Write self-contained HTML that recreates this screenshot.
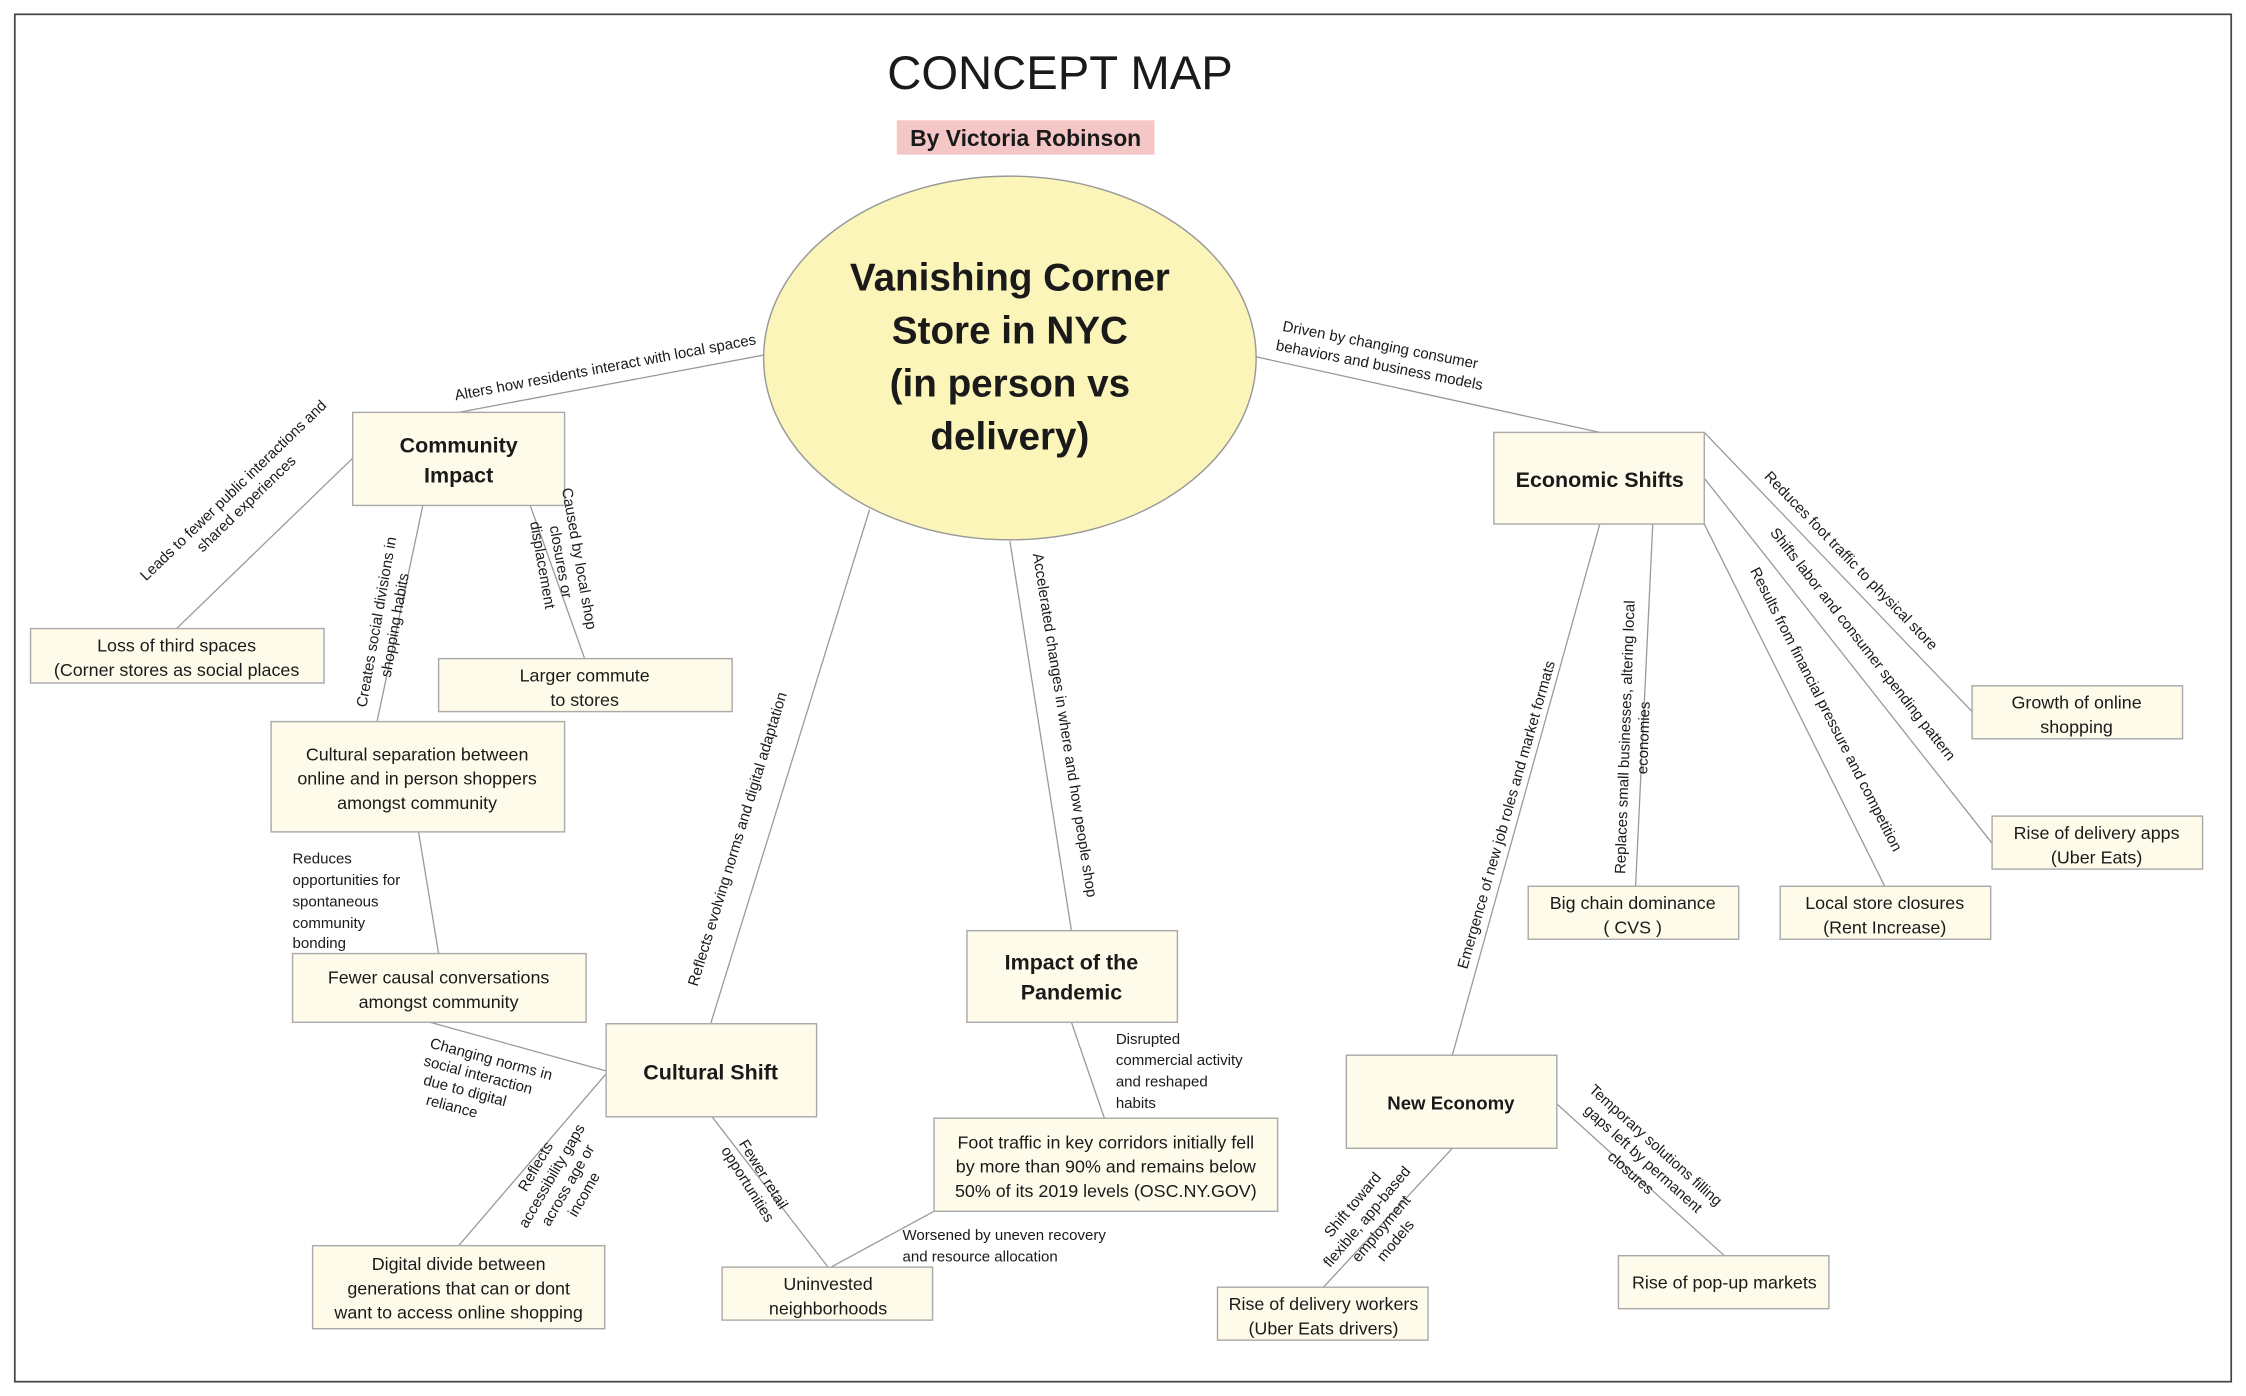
<!DOCTYPE html>
<html><head><meta charset="utf-8"><style>
html,body{margin:0;padding:0;background:#fff;}
svg{display:block;}
text{font-family:"Liberation Sans",sans-serif;fill:#1a1a1a;}
.n{font-size:12.5px;}
.b{font-weight:bold;}
.l{font-size:10.5px;}
rect.box{fill:#fefbea;stroke:#aaa;stroke-width:1;}
line{stroke:#999;stroke-width:0.9;}
</style></head><body>
<svg width="2246" height="1396" viewBox="0 0 1568 975" xmlns="http://www.w3.org/2000/svg">
<rect x="10" y="10" width="1548" height="955" fill="#fff" stroke="#444" stroke-width="1.2"/>
<text x="740" y="62" text-anchor="middle" style="font-size:33px">CONCEPT MAP</text>
<rect x="626" y="84" width="180" height="24" fill="#f5c6c6"/>
<text x="716" y="102" text-anchor="middle" class="b" style="font-size:16px">By Victoria Robinson</text>

<!-- connectors -->
<line x1="533" y1="248" x2="320" y2="288"/>
<line x1="246" y1="320" x2="123" y2="439"/>
<line x1="295" y1="353" x2="263" y2="504"/>
<line x1="370" y1="353" x2="408" y2="460"/>
<line x1="292" y1="581" x2="306" y2="666"/>
<line x1="300" y1="714" x2="423" y2="748"/>
<line x1="423" y1="750" x2="320" y2="870"/>
<line x1="497" y1="780" x2="578" y2="885"/>
<line x1="607" y1="356" x2="496" y2="715"/>
<line x1="705" y1="378" x2="748" y2="650"/>
<line x1="748" y1="714" x2="771" y2="781"/>
<line x1="652" y1="846" x2="580" y2="885"/>
<line x1="876" y1="249" x2="1117" y2="302"/>
<line x1="1190" y1="302" x2="1377" y2="497"/>
<line x1="1190" y1="334" x2="1391" y2="589"/>
<line x1="1190" y1="366" x2="1316" y2="619"/>
<line x1="1154" y1="366" x2="1142" y2="619"/>
<line x1="1117" y1="366" x2="1014" y2="737"/>
<line x1="1014" y1="802" x2="924" y2="899"/>
<line x1="1087" y1="771" x2="1204" y2="877"/>

<!-- central ellipse -->
<ellipse cx="705" cy="250" rx="172" ry="127" fill="#fcf5b9" stroke="#999"/>
<g class="b" style="font-size:27px" text-anchor="middle">
<text x="705" y="203">Vanishing Corner</text>
<text x="705" y="240">Store in NYC</text>
<text x="705" y="277">(in person vs</text>
<text x="705" y="314">delivery)</text>
</g>

<!-- boxes -->
<rect class="box" x="246" y="288" width="148" height="65"/>
<text x="320" y="316" text-anchor="middle" class="b" style="font-size:15px">Community</text>
<text x="320" y="337" text-anchor="middle" class="b" style="font-size:15px">Impact</text>

<rect class="box" x="21" y="439" width="205" height="38"/>
<text x="123" y="455" text-anchor="middle" class="n">Loss of third spaces</text>
<text x="123" y="472" text-anchor="middle" class="n">(Corner stores as social places</text>

<rect class="box" x="306" y="460" width="205" height="37"/>
<text x="408" y="476" text-anchor="middle" class="n">Larger commute</text>
<text x="408" y="493" text-anchor="middle" class="n">to stores</text>

<rect class="box" x="189" y="504" width="205" height="77"/>
<text x="291" y="531" text-anchor="middle" class="n">Cultural separation between</text>
<text x="291" y="548" text-anchor="middle" class="n">online and in person shoppers</text>
<text x="291" y="565" text-anchor="middle" class="n">amongst community</text>

<rect class="box" x="204" y="666" width="205" height="48"/>
<text x="306" y="687" text-anchor="middle" class="n">Fewer causal conversations</text>
<text x="306" y="704" text-anchor="middle" class="n">amongst community</text>

<rect class="box" x="423" y="715" width="147" height="65"/>
<text x="496" y="754" text-anchor="middle" class="b" style="font-size:15px">Cultural Shift</text>

<rect class="box" x="218" y="870" width="204" height="58"/>
<text x="320" y="887" text-anchor="middle" class="n">Digital divide between</text>
<text x="320" y="904" text-anchor="middle" class="n">generations that can or dont</text>
<text x="320" y="921" text-anchor="middle" class="n">want to access online shopping</text>

<rect class="box" x="504" y="885" width="147" height="37"/>
<text x="578" y="901" text-anchor="middle" class="n">Uninvested</text>
<text x="578" y="918" text-anchor="middle" class="n">neighborhoods</text>

<rect class="box" x="675" y="650" width="147" height="64"/>
<text x="748" y="677" text-anchor="middle" class="b" style="font-size:15px">Impact of the</text>
<text x="748" y="698" text-anchor="middle" class="b" style="font-size:15px">Pandemic</text>

<rect class="box" x="652" y="781" width="240" height="65"/>
<text x="772" y="802" text-anchor="middle" class="n">Foot traffic in key corridors initially fell</text>
<text x="772" y="819" text-anchor="middle" class="n">by more than 90% and remains below</text>
<text x="772" y="836" text-anchor="middle" class="n">50% of its 2019 levels (OSC.NY.GOV)</text>

<rect class="box" x="1043" y="302" width="147" height="64"/>
<text x="1117" y="340" text-anchor="middle" class="b" style="font-size:15px">Economic Shifts</text>

<rect class="box" x="1377" y="479" width="147" height="37"/>
<text x="1450" y="495" text-anchor="middle" class="n">Growth of online</text>
<text x="1450" y="512" text-anchor="middle" class="n">shopping</text>

<rect class="box" x="1391" y="570" width="147" height="37"/>
<text x="1464" y="586" text-anchor="middle" class="n">Rise of delivery apps</text>
<text x="1464" y="603" text-anchor="middle" class="n">(Uber Eats)</text>

<rect class="box" x="1067" y="619" width="147" height="37"/>
<text x="1140" y="635" text-anchor="middle" class="n">Big chain dominance</text>
<text x="1140" y="652" text-anchor="middle" class="n">( CVS )</text>

<rect class="box" x="1243" y="619" width="147" height="37"/>
<text x="1316" y="635" text-anchor="middle" class="n">Local store closures</text>
<text x="1316" y="652" text-anchor="middle" class="n">(Rent Increase)</text>

<rect class="box" x="940" y="737" width="147" height="65"/>
<text x="1013" y="775" text-anchor="middle" class="b" style="font-size:13px">New Economy</text>

<rect class="box" x="850" y="899" width="147" height="37"/>
<text x="924" y="915" text-anchor="middle" class="n">Rise of delivery workers</text>
<text x="924" y="932" text-anchor="middle" class="n">(Uber Eats drivers)</text>

<rect class="box" x="1130" y="877" width="147" height="37"/>
<text x="1204" y="900" text-anchor="middle" class="n">Rise of pop-up markets</text>

<!-- labels -->
<g class="l" text-anchor="middle">
<text transform="translate(423,260) rotate(-10.6)">Alters how residents interact with local spaces</text>
<text transform="translate(165,345) rotate(-44)"><tspan x="0" y="0">Leads to fewer public interactions and</tspan><tspan x="0" y="13">shared experiences</tspan></text>
<text transform="translate(266,435) rotate(-80)"><tspan x="0" y="0">Creates social divisions in</tspan><tspan x="0" y="13">shopping habits</tspan></text>
<text transform="translate(388,393) rotate(80)"><tspan x="0" y="-13">Caused by local shop</tspan><tspan x="0" y="0">closures or</tspan><tspan x="0" y="13">displacement</tspan></text>
<text transform="translate(338,742) rotate(15)"><tspan x="4" y="0">Changing norms in</tspan><tspan x="-2" y="13">social interaction</tspan><tspan x="-8" y="26">due to digital</tspan><tspan x="-14" y="39">reliance</tspan></text>
<text transform="translate(388,823) rotate(-60)"><tspan x="0" y="-13">Reflects</tspan><tspan x="0" y="0">accessibility gaps</tspan><tspan x="0" y="13">across age or</tspan><tspan x="0" y="26">income</tspan></text>
<text transform="translate(530,822) rotate(58)"><tspan x="0" y="0">Fewer retail</tspan><tspan x="0" y="13">opportunities</tspan></text>
<text transform="translate(518,587) rotate(-73)">Reflects evolving norms and digital adaptation</text>
<text transform="translate(740,507) rotate(81)">Accelerated changes in where and how people shop</text>
<text transform="translate(1290,394) rotate(46)">Reduces foot traffic to physical store</text>
<text transform="translate(1298,452) rotate(52)">Shifts labor and consumer spending pattern</text>
<text transform="translate(1272,497) rotate(63)">Results from financial pressure and competition</text>
<text transform="translate(1138,515) rotate(-88)"><tspan x="0" y="0">Replaces small businesses, altering local</tspan><tspan x="0" y="13">economies</tspan></text>
<text transform="translate(1055,570) rotate(-74)">Emergence of new job roles and market formats</text>
<text transform="translate(957,852) rotate(-50)"><tspan x="0" y="-13">Shift toward</tspan><tspan x="0" y="0">flexible, app-based</tspan><tspan x="0" y="13">employment</tspan><tspan x="0" y="26">models</tspan></text>
<text transform="translate(1145,812) rotate(42)"><tspan x="0" y="-13">Temporary solutions filling</tspan><tspan x="0" y="0">gaps left by permanent</tspan><tspan x="0" y="13">closures</tspan></text>
</g>
<g class="l">
<text transform="translate(895,231) rotate(11)"><tspan x="0" y="0">Driven by changing consumer</tspan><tspan x="-2" y="14">behaviors and business models</tspan></text>
<text x="204" y="603">Reduces</text>
<text x="204" y="618">opportunities for</text>
<text x="204" y="633">spontaneous</text>
<text x="204" y="648">community</text>
<text x="204" y="662">bonding</text>
<text x="779" y="729">Disrupted</text>
<text x="779" y="744">commercial activity</text>
<text x="779" y="759">and reshaped</text>
<text x="779" y="774">habits</text>
<text x="630" y="866">Worsened by uneven recovery</text>
<text x="630" y="881">and resource allocation</text>
</g>
</svg>
</body></html>
